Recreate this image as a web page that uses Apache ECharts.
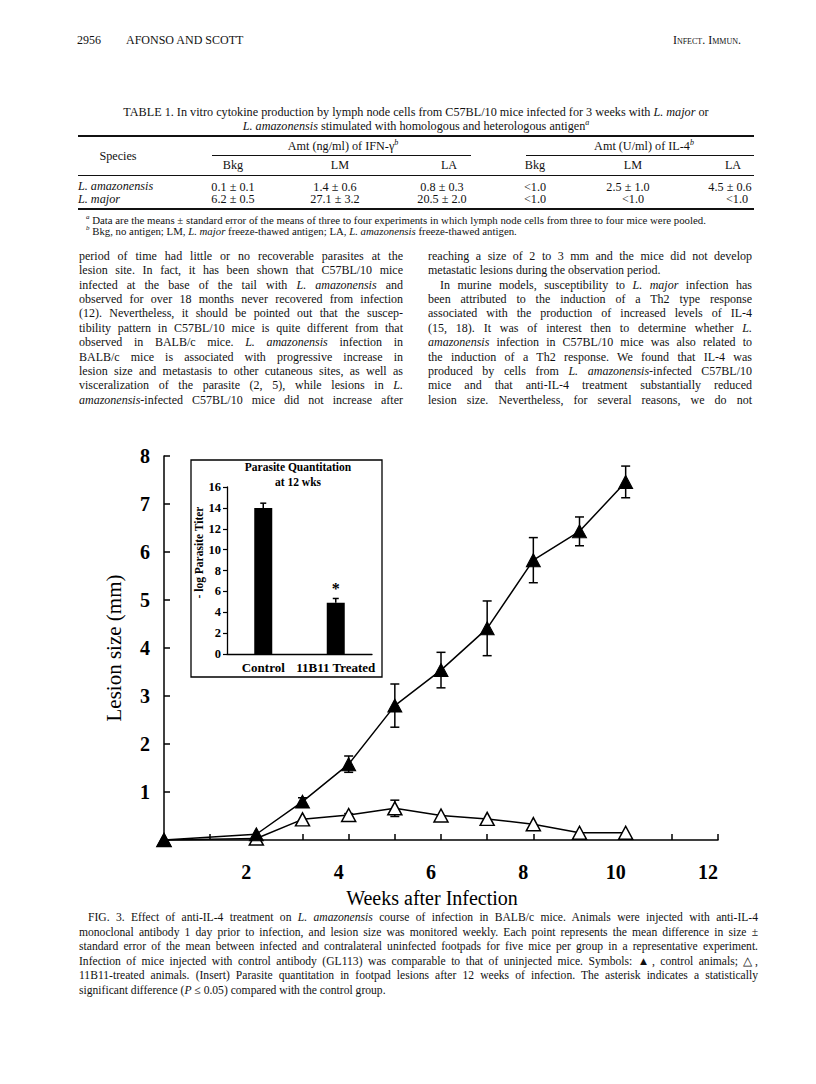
<!DOCTYPE html>
<html>
<head>
<meta charset="utf-8">
<script src="https://cdn.jsdelivr.net/npm/echarts@6/dist/echarts.min.js"></script>
<style>
  html,body{margin:0;padding:0;background:#fff;}
  body{width:816px;height:1084px;position:relative;overflow:hidden;font-family:"Liberation Serif","Times New Roman",serif;color:#111;}
  #chart{position:absolute;left:0;top:0;width:816px;height:1084px;z-index:0;}
  .t{position:absolute;white-space:nowrap;z-index:1;}
  .c{position:absolute;white-space:nowrap;transform:translate(-50%,-50%);z-index:1;font-size:12.2px;}
  .col{position:absolute;width:324px;font-size:12px;line-height:14.4px;z-index:1;}
  .col div{text-align:justify;text-align-last:justify;height:14.4px;}
  .col div.last{text-align-last:left;}
  .cap{position:absolute;left:79px;width:679px;font-size:11.6px;line-height:14.6px;z-index:1;top:911px;}
  .cap div{text-align:justify;text-align-last:justify;height:14.6px;}
  .cap div.last{text-align-last:left;}
  .rule{position:absolute;border-top:1px solid #111;z-index:1;}
  .sc{font-variant:small-caps;}
</style>
</head>
<body>
<div id="chart"></div>

<!-- running head -->
<div class="t" style="left:77px;top:33px;font-size:12px;">2956</div>
<div class="t" style="left:126px;top:33px;font-size:12px;">AFONSO AND SCOTT</div>
<div class="t sc" style="right:75px;top:33px;font-size:12px;">Infect. Immun.</div>

<!-- table -->
<div class="c" style="left:416px;top:112px;">TABLE 1. In vitro cytokine production by lymph node cells from C57BL/10 mice infected for 3 weeks with <i>L. major</i> or</div>
<div class="c" style="left:416px;top:125.5px;"><i>L. amazonensis</i> stimulated with homologous and heterologous antigen<sup style="font-size:8px"><i>a</i></sup></div>
<div class="rule" style="left:78px;width:676px;top:135px;border-top-width:2px;"></div>
<div class="c" style="left:118px;top:156px;">Species</div>
<div class="c" style="left:343px;top:146px;">Amt (ng/ml) of IFN-γ<sup style="font-size:8px"><i>b</i></sup></div>
<div class="c" style="left:644px;top:146px;">Amt (U/ml) of IL-4<sup style="font-size:8px"><i>b</i></sup></div>
<div class="rule" style="left:212px;width:259px;top:155px;"></div>
<div class="rule" style="left:526px;width:228px;top:155px;"></div>
<div class="c" style="left:233px;top:165px;">Bkg</div>
<div class="c" style="left:340px;top:165px;">LM</div>
<div class="c" style="left:449px;top:165px;">LA</div>
<div class="c" style="left:535px;top:165px;">Bkg</div>
<div class="c" style="left:633px;top:165px;">LM</div>
<div class="c" style="left:733px;top:165px;">LA</div>
<div class="rule" style="left:78px;width:676px;top:175px;"></div>
<div class="t" style="left:78px;top:179px;font-size:12.2px;"><i>L. amazonensis</i></div>
<div class="t" style="left:78px;top:191.5px;font-size:12.2px;"><i>L. major</i></div>
<div class="c" style="left:233px;top:186.5px;">0.1 ± 0.1</div>
<div class="c" style="left:335px;top:186.5px;">1.4 ± 0.6</div>
<div class="c" style="left:442px;top:186.5px;">0.8 ± 0.3</div>
<div class="c" style="left:535px;top:186.5px;">&lt;1.0</div>
<div class="c" style="left:628px;top:186.5px;">2.5 ± 1.0</div>
<div class="c" style="left:730px;top:186.5px;">4.5 ± 0.6</div>
<div class="c" style="left:233px;top:199px;">6.2 ± 0.5</div>
<div class="c" style="left:335px;top:199px;">27.1 ± 3.2</div>
<div class="c" style="left:442px;top:199px;">20.5 ± 2.0</div>
<div class="c" style="left:535px;top:199px;">&lt;1.0</div>
<div class="c" style="left:633px;top:199px;">&lt;1.0</div>
<div class="c" style="left:737px;top:199px;">&lt;1.0</div>
<div class="rule" style="left:78px;width:676px;top:208px;border-top-width:2px;"></div>
<div class="t" style="left:86px;top:213px;font-size:10.8px;"><sup style="font-size:7px"><i>a</i></sup> Data are the means ± standard error of the means of three to four experiments in which lymph node cells from three to four mice were pooled.</div>
<div class="t" style="left:86px;top:224px;font-size:10.8px;"><sup style="font-size:7px"><i>b</i></sup> Bkg, no antigen; LM, <i>L. major</i> freeze-thawed antigen; LA, <i>L. amazonensis</i> freeze-thawed antigen.</div>

<!-- body text -->
<div class="col" style="left:79px;top:248.8px;">
<div>period of time had little or no recoverable parasites at the</div>
<div>lesion site. In fact, it has been shown that C57BL/10 mice</div>
<div>infected at the base of the tail with <i>L. amazonensis</i> and</div>
<div>observed for over 18 months never recovered from infection</div>
<div>(12). Nevertheless, it should be pointed out that the suscep-</div>
<div>tibility pattern in C57BL/10 mice is quite different from that</div>
<div>observed in BALB/c mice. <i>L. amazonensis</i> infection in</div>
<div>BALB/c mice is associated with progressive increase in</div>
<div>lesion size and metastasis to other cutaneous sites, as well as</div>
<div>visceralization of the parasite (2, 5), while lesions in <i>L.</i></div>
<div><i>amazonensis</i>-infected C57BL/10 mice did not increase after</div>
</div>
<div class="col" style="left:428px;top:248.8px;">
<div>reaching a size of 2 to 3 mm and the mice did not develop</div>
<div class="last">metastatic lesions during the observation period.</div>
<div style="padding-left:12px;">In murine models, susceptibility to <i>L. major</i> infection has</div>
<div>been attributed to the induction of a Th2 type response</div>
<div>associated with the production of increased levels of IL-4</div>
<div>(15, 18). It was of interest then to determine whether <i>L.</i></div>
<div><i>amazonensis</i> infection in C57BL/10 mice was also related to</div>
<div>the induction of a Th2 response. We found that IL-4 was</div>
<div>produced by cells from <i>L. amazonensis</i>-infected C57BL/10</div>
<div>mice and that anti-IL-4 treatment substantially reduced</div>
<div>lesion size. Nevertheless, for several reasons, we do not</div>
</div>

<!-- caption -->
<div class="cap">
<div style="padding-left:9px;">FIG. 3. Effect of anti-IL-4 treatment on <i>L. amazonensis</i> course of infection in BALB/c mice. Animals were injected with anti-IL-4</div>
<div>monoclonal antibody 1 day prior to infection, and lesion size was monitored weekly. Each point represents the mean difference in size ±</div>
<div>standard error of the mean between infected and contralateral uninfected footpads for five mice per group in a representative experiment.</div>
<div>Infection of mice injected with control antibody (GL113) was comparable to that of uninjected mice. Symbols: ▲, control animals; △,</div>
<div>11B11-treated animals. (Insert) Parasite quantitation in footpad lesions after 12 weeks of infection. The asterisk indicates a statistically</div>
<div class="last">significant difference (<i>P</i> ≤ 0.05) compared with the control group.</div>
</div>

<script>
// ---- data ----
const weeks        = [0, 2, 3, 4, 5, 6, 7, 8, 9, 10];
const controlMean  = [0, 0.12, 0.80, 1.58, 2.80, 3.54, 4.41, 5.83, 6.43, 7.46];
const controlSE    = [0, 0, 0.08, 0.17, 0.45, 0.37, 0.57, 0.47, 0.30, 0.33];
const treatedMean  = [0, 0.03, 0.43, 0.52, 0.66, 0.51, 0.44, 0.33, 0.15, 0.15];
const treatedSE    = [0, 0, 0, 0.03, 0.17, 0, 0, 0, 0, 0];
const xTickLabels  = ['2', '4', '6', '8', '10', '12'];
const yTickLabels  = ['1', '2', '3', '4', '5', '6', '7', '8'];
const insetCategories = ['Control', '11B11 Treated'];
const insetTiter   = [14.0, 4.9];
const insetSE      = [0.45, 0.42];
const insetSig     = ['', '*'];
const insetTickLabels = ['0', '2', '4', '6', '8', '10', '12', '14', '16'];

const FONT = '"Liberation Serif", "Times New Roman", serif';
const chart = echarts.init(document.getElementById('chart'), null, {renderer: 'svg'});

function errRender(capHalf, upOnly) {
  return function (params, api) {
    const x = api.value(0), m = api.value(1), e = api.value(2);
    const top = api.coord([x, m + e]);
    const bot = upOnly ? api.coord([x, m]) : api.coord([x, m - e]);
    const st = {stroke: '#000', lineWidth: 1.5, fill: null};
    const children = [
      {type: 'line', shape: {x1: top[0], y1: top[1], x2: bot[0], y2: bot[1]}, style: st},
      {type: 'line', shape: {x1: top[0] - capHalf, y1: top[1], x2: top[0] + capHalf, y2: top[1]}, style: st}
    ];
    if (!upOnly) children.push({type: 'line', shape: {x1: bot[0] - capHalf, y1: bot[1], x2: bot[0] + capHalf, y2: bot[1]}, style: st});
    return {type: 'group', children: children};
  };
}

const option = {
  animation: false,
  backgroundColor: 'transparent',
  grid: [
    {left: 164, top: 456, width: 554, height: 384, containLabel: false},
    {left: 227, top: 487, width: 145, height: 167, containLabel: false}
  ],
  xAxis: [
    {
      type: 'value', gridIndex: 0, min: 0, max: 12, interval: 1,
      name: 'Weeks after Infection', nameLocation: 'middle', nameGap: 48,
      nameTextStyle: {fontFamily: FONT, fontSize: 20, color: '#000', padding: [0, 18, 0, 0]},
      axisLine: {lineStyle: {color: '#000', width: 1.5}},
      axisTick: {inside: true, length: 6, lineStyle: {color: '#000', width: 1.5}},
      axisLabel: {
        margin: 22, fontFamily: FONT, fontSize: 20, fontWeight: 'bold', color: '#000',
        padding: [0, 20, 0, 0],
        formatter: v => xTickLabels.includes(String(v)) ? String(v) : ''
      },
      splitLine: {show: false}
    },
    {
      type: 'category', gridIndex: 1, data: insetCategories,
      axisLine: {lineStyle: {color: '#000', width: 1.3}},
      axisTick: {show: false},
      axisLabel: {interval: 0, margin: 7, fontFamily: FONT, fontSize: 13, fontWeight: 'bold', color: '#000'}
    }
  ],
  yAxis: [
    {
      type: 'value', gridIndex: 0, min: 0, max: 8, interval: 1,
      name: 'Lesion size (mm)', nameLocation: 'middle', nameGap: 40,
      nameTextStyle: {fontFamily: FONT, fontSize: 21, color: '#000'},
      axisLine: {show: true, lineStyle: {color: '#000', width: 1.5}},
      axisTick: {show: true, inside: true, length: 6, lineStyle: {color: '#000', width: 1.5}},
      axisLabel: {
        margin: 14, fontFamily: FONT, fontSize: 20, fontWeight: 'bold', color: '#000',
        formatter: v => yTickLabels.includes(String(v)) ? String(v) : ''
      },
      splitLine: {show: false}
    },
    {
      type: 'value', gridIndex: 1, min: 0, max: 16, interval: 2,
      name: '- log Parasite Titer', nameLocation: 'middle', nameGap: 19,
      nameTextStyle: {fontFamily: FONT, fontSize: 11.5, fontWeight: 'bold', color: '#000', padding: [0, 0, 0, 36]},
      axisLine: {show: true, lineStyle: {color: '#000', width: 1.3}},
      axisTick: {show: true, length: 4, lineStyle: {color: '#000', width: 1.2}},
      axisLabel: {
        margin: 6, fontFamily: FONT, fontSize: 12.5, fontWeight: 'bold', color: '#000',
        formatter: v => insetTickLabels.includes(String(v)) ? String(v) : ''
      },
      splitLine: {show: false}
    }
  ],
  graphic: [
    {type: 'rect', shape: {x: 191, y: 460, width: 191, height: 217}, style: {fill: '#fff', stroke: '#000', lineWidth: 1.3}, z: -1},
    {type: 'text', x: 298, y: 467, style: {text: 'Parasite Quantitation', font: 'bold 11.5px ' + FONT, fill: '#000', textAlign: 'center', textVerticalAlign: 'middle'}},
    {type: 'text', x: 298, y: 482, style: {text: 'at 12 wks', font: 'bold 11.5px ' + FONT, fill: '#000', textAlign: 'center', textVerticalAlign: 'middle'}}
  ],
  series: [
    {
      type: 'custom', xAxisIndex: 0, yAxisIndex: 0, z: 2,
      data: weeks.map((w, i) => [w, controlMean[i], controlSE[i]]).filter(d => d[2] > 0),
      encode: {x: 0, y: 1}, renderItem: errRender(4.5, false)
    },
    {
      type: 'custom', xAxisIndex: 0, yAxisIndex: 0, z: 2,
      data: weeks.map((w, i) => [w, treatedMean[i], treatedSE[i]]).filter(d => d[2] > 0),
      encode: {x: 0, y: 1}, renderItem: errRender(4.5, false)
    },
    {
      type: 'line', xAxisIndex: 0, yAxisIndex: 0, z: 3,
      data: weeks.map((w, i) => [w, treatedMean[i]]),
      symbol: 'triangle', symbolSize: [14, 13], showAllSymbol: true,
      itemStyle: {color: '#fff', borderColor: '#000', borderWidth: 1.5},
      lineStyle: {color: '#000', width: 1.5}
    },
    {
      type: 'line', xAxisIndex: 0, yAxisIndex: 0, z: 4,
      data: weeks.map((w, i) => [w, controlMean[i]]),
      symbol: 'triangle', symbolSize: [14, 13], showAllSymbol: true,
      itemStyle: {color: '#000', borderColor: '#000', borderWidth: 1},
      lineStyle: {color: '#000', width: 1.5}
    },
    {
      type: 'bar', xAxisIndex: 1, yAxisIndex: 1, barWidth: 18,
      data: insetTiter, itemStyle: {color: '#000'}
    },
    {
      type: 'custom', xAxisIndex: 1, yAxisIndex: 1, z: 3,
      data: insetCategories.map((c, i) => [i, insetTiter[i], insetSE[i]]),
      encode: {x: 0, y: 1},
      renderItem: function (params, api) {
        const i = api.value(0), v = api.value(1), e = api.value(2);
        const g = errRender(3, true)(params, api);
        const sig = insetSig[params.dataIndex];
        if (sig) {
          const p = api.coord([i, v + e]);
          g.children.push({type: 'text', x: p[0], y: p[1] - 10, style: {text: sig, font: 'bold 16px ' + FONT, fill: '#000', textAlign: 'center', textVerticalAlign: 'middle'}});
        }
        return g;
      }
    }
  ]
};
chart.setOption(option);
</script>
</body>
</html>
